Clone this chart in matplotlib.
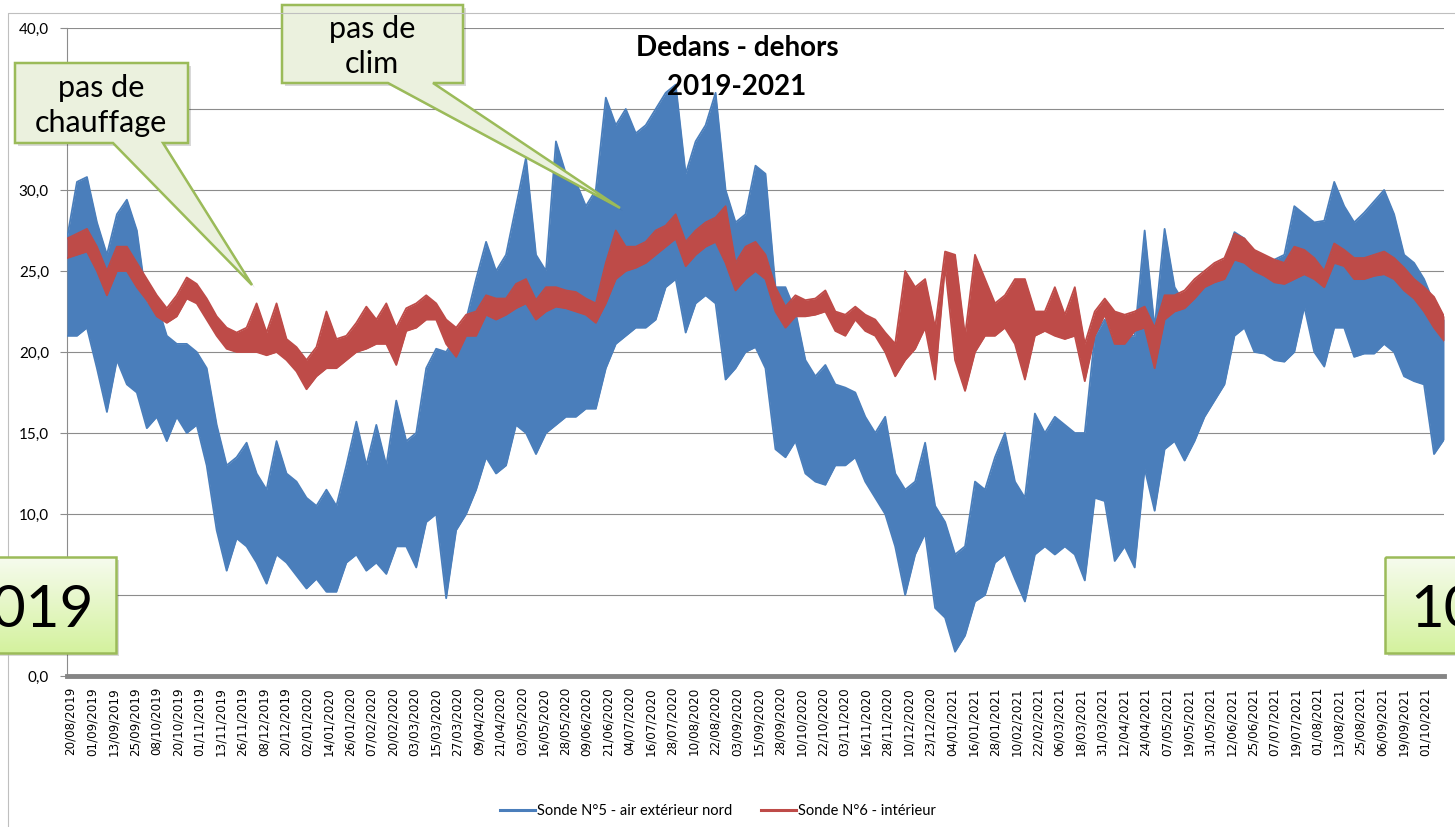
import numpy as np
import matplotlib
matplotlib.use("Agg")
import matplotlib.pyplot as plt
from matplotlib.patches import Polygon, Rectangle
from matplotlib.colors import LinearSegmentedColormap

# x axis labels (one every ~12 days, category style like the Excel sheet)
date_labels = [
    "20/08/2019", "01/09/2019", "13/09/2019", "25/09/2019", "08/10/2019", "20/10/2019",
    "01/11/2019", "13/11/2019", "26/11/2019", "08/12/2019", "20/12/2019", "02/01/2020",
    "14/01/2020", "26/01/2020", "07/02/2020", "20/02/2020", "03/03/2020", "15/03/2020",
    "27/03/2020", "09/04/2020", "21/04/2020", "03/05/2020", "16/05/2020", "28/05/2020",
    "09/06/2020", "21/06/2020", "04/07/2020", "16/07/2020", "28/07/2020", "10/08/2020",
    "22/08/2020", "03/09/2020", "15/09/2020", "28/09/2020", "10/10/2020", "22/10/2020",
    "03/11/2020", "16/11/2020", "28/11/2020", "10/12/2020", "23/12/2020", "04/01/2021",
    "16/01/2021", "28/01/2021", "10/02/2021", "22/02/2021", "06/03/2021", "18/03/2021",
    "31/03/2021", "12/04/2021", "24/04/2021", "07/05/2021", "19/05/2021", "31/05/2021",
    "12/06/2021", "25/06/2021", "07/07/2021", "19/07/2021", "01/08/2021", "13/08/2021",
    "25/08/2021", "06/09/2021", "19/09/2021", "01/10/2021",
]

# readings (°C) taken off the chart, evenly spaced along the x axis:
# low / high envelope of each probe
ext_low = [
    21, 21, 21.5, 19, 16.3, 19.5, 18, 17.5, 15.3, 16,
    14.5, 16, 15, 15.5, 13, 9, 6.5, 8.5, 8, 7,
    5.7, 7.5, 7, 6.2, 5.4, 6, 5.2, 5.2, 7, 7.5,
    6.5, 7, 6.3, 8, 8, 6.7, 9.5, 10, 4.8, 9,
    10, 11.5, 13.5, 12.5, 13, 15.5, 15, 13.7, 15, 15.5,
    16, 16, 16.5, 16.5, 19, 20.5, 21, 21.5, 21.5, 22,
    24, 24.5, 21.2, 23, 23.5, 23, 18.3, 19, 20, 20.3,
    19, 14, 13.5, 14.5, 12.5, 12, 11.8, 13, 13, 13.5,
    12, 11, 10, 8, 5, 7.5, 8.8, 4.2, 3.6, 1.5,
    2.5, 4.6, 5, 7, 7.5, 6, 4.6, 7.5, 8, 7.5,
    8, 7.5, 5.9, 11, 10.8, 7.1, 8, 6.7, 12.8, 10.2,
    14, 14.5, 13.3, 14.5, 16, 17, 18, 21, 21.5, 20,
    19.9, 19.5, 19.4, 20, 22.8, 20, 19.1, 21.5, 21.5, 19.7,
    19.9, 19.9, 20.5, 20, 18.5, 18.2, 18, 13.7, 14.6,
]
ext_high = [
    27, 30.5, 30.8, 28, 26, 28.5, 29.4, 27.5, 23, 23,
    21, 20.5, 20.5, 20, 19, 15.5, 13, 13.5, 14.4, 12.5,
    11.5, 14.5, 12.5, 12, 11, 10.5, 11.5, 10.5, 13, 15.7,
    13, 15.5, 13, 17, 14.5, 15, 19, 20.2, 20, 21,
    22, 24.5, 26.8, 25, 26, 29, 32, 26, 25, 33,
    31, 30.5, 29, 30, 35.7, 34, 35, 33.5, 34, 35,
    36, 36.5, 31, 33, 34, 36, 30, 28, 28.5, 31.5,
    31, 24, 24, 22.5, 19.5, 18.5, 19.2, 18, 17.8, 17.5,
    16, 15, 16, 12.5, 11.5, 12, 14.4, 10.5, 9.5, 7.5,
    8, 12, 11.5, 13.5, 15, 12, 11, 16.2, 15, 16,
    15.5, 15, 15, 21, 22, 20.5, 21, 21, 27.5, 21.5,
    27.6, 24, 23, 24, 24.5, 25, 25.5, 27.4, 27, 26,
    25.5, 25.7, 26, 29, 28.5, 28, 28.1, 30.5, 29, 28,
    28.6, 29.3, 30, 28.5, 26, 25.5, 24.5, 23, 22,
]
int_low = [
    25.8, 26, 26.2, 25, 23.5, 25, 25, 24, 23.2, 22.2,
    21.8, 22.2, 23.3, 23, 22, 21, 20.2, 20, 20, 20,
    19.8, 20, 19.5, 18.8, 17.7, 18.5, 19, 19, 19.5, 20,
    20.2, 20.5, 20.5, 19.2, 21.3, 21.5, 22, 22, 20.5, 19.7,
    21, 21, 22.3, 22, 22.3, 22.7, 23, 22, 22.5, 22.8,
    22.7, 22.5, 22.3, 21.8, 23, 24.5, 25, 25.2, 25.5, 26,
    26.5, 27, 25.3, 26, 26.5, 26.8, 25.5, 23.8, 24.5, 25,
    24.5, 22.5, 21.5, 22.2, 22.2, 22.3, 22.5, 21.3, 21, 22,
    21.3, 21, 20, 18.5, 19.5, 20.2, 21.5, 18.3, 25.3, 19.5,
    17.6, 20, 21, 21, 21.5, 20.5, 18.3, 21, 21.3, 21,
    20.8, 21, 18.2, 21, 22.3, 20.5, 20.5, 21.3, 21.5, 19,
    22, 22.5, 22.7, 23.3, 24, 24.3, 24.5, 25.7, 25.5, 25,
    24.7, 24.3, 24.2, 24.5, 24.8, 24.5, 24, 25.5, 25.3, 24.5,
    24.5, 24.7, 24.8, 24.5, 23.8, 23.3, 22.5, 21.5, 20.7,
]
int_high = [
    27, 27.3, 27.6, 26.5, 25, 26.5, 26.5, 25.5, 24.5, 23.5,
    22.7, 23.5, 24.6, 24.2, 23.3, 22.2, 21.5, 21.2, 21.5, 23,
    21.2, 23, 20.8, 20.3, 19.5, 20.3, 22.5, 20.8, 21, 21.8,
    22.8, 22, 23, 21.5, 22.7, 23, 23.5, 23, 22, 21.5,
    22.3, 22.5, 23.5, 23.3, 23.3, 24.2, 24.5, 23.2, 24, 24,
    23.8, 23.7, 23.3, 23, 25.5, 27.5, 26.5, 26.5, 26.8, 27.5,
    27.8, 28.5, 26.8, 27.5, 28, 28.3, 29, 25.5, 26.5, 26.8,
    26, 24, 22.8, 23.5, 23.2, 23.3, 23.8, 22.5, 22.3, 22.8,
    22.3, 22, 21.2, 20.5, 25, 24, 24.5, 21.5, 26.2, 26,
    21, 26, 24.5, 23, 23.5, 24.5, 24.5, 22.5, 22.5, 24,
    22.3, 24, 20.5, 22.5, 23.3, 22.5, 22.3, 22.5, 22.8, 21.5,
    23.5, 23.5, 23.8, 24.5, 25, 25.5, 25.8, 27.3, 27, 26.3,
    26, 25.7, 25.5, 26.5, 26.3, 25.8, 25, 26.7, 26.3, 25.8,
    25.8, 26, 26.2, 25.8, 25.2, 24.5, 24, 23.4, 22.2,
]

W, H = 1455, 827
BLUE = "#4A7EBB"
RED = "#BE4B48"
GRID = "#8C8C8C"

plt.rcParams["font.family"] = ["Lato", "DejaVu Sans"]

fig = plt.figure(figsize=(W / 100, H / 100), dpi=100)
fig.patch.set_facecolor("white")

# plot area in pixels: x 67..1444, y 28..676
ax = fig.add_axes([67 / W, 1 - 676 / H, (1444 - 67) / W, 648 / H])
x_lo, x_hi = -0.16, 63.88   # first/last reading in tick units

pos = np.linspace(x_lo, x_hi, len(ext_low))

# the hourly curves are so dense they read as a band between low and high
ax.fill_between(pos, ext_low, ext_high, color=BLUE, lw=0, zorder=3)
ax.plot(pos, ext_low, color=BLUE, lw=1.3, zorder=3)
l_ext, = ax.plot(pos, ext_high, color=BLUE, lw=1.3, zorder=3,
                 label="Sonde N°5 - air extérieur nord")
ax.fill_between(pos, int_low, int_high, color=RED, lw=0, zorder=4)
ax.plot(pos, int_low, color=RED, lw=1.3, zorder=4)
l_int, = ax.plot(pos, int_high, color=RED, lw=1.3, zorder=4,
                 label="Sonde N°6 - intérieur")

ax.set_xlim(x_lo, x_hi)
ax.set_ylim(0, 40)
ax.set_yticks(np.arange(0, 41, 5))
ax.set_yticklabels([f"{v:.1f}".replace(".", ",") for v in np.arange(0, 41, 5)], fontsize=11)
ax.set_xticks(np.arange(len(date_labels)))
ax.set_xticklabels(date_labels, rotation=90, fontsize=8.6, family="DejaVu Sans")
ax.tick_params(axis="x", length=0, pad=8)
ax.tick_params(axis="y", length=5, width=0.8, color=GRID, pad=8)
ax.grid(axis="y", color=GRID, lw=0.8, zorder=0)
ax.set_axisbelow(True)
for s in ("top", "right"):
    ax.spines[s].set_visible(False)
ax.spines["left"].set_color(GRID)
ax.spines["left"].set_linewidth(0.8)
ax.spines["bottom"].set_color("#858585")
ax.spines["bottom"].set_linewidth(3.5)
ax.spines["bottom"].set_zorder(5)

leg = fig.legend(handles=[l_ext, l_int], loc="center", bbox_to_anchor=(718 / W, 1 - 811 / H),
                 ncol=2, frameon=False, fontsize=10.5, handlelength=2.4, handletextpad=0.1,
                 columnspacing=2.0)
for h in leg.legend_handles:
    h.set_linewidth(2.2)

# overlay in pixel coordinates for title, chart border and callouts
ov = fig.add_axes([0, 0, 1, 1], zorder=10)
ov.patch.set_alpha(0)
ov.axis("off")

ov.plot([8, 8, W + 5], [H + 5, 13, 13], color="#BFBFBF", lw=0.8)

ov.text(737, 56, "Dedans - dehors", ha="center", va="baseline", fontsize=20, fontweight="bold")
ov.text(737, 95, "2019-2021", ha="center", va="baseline", fontsize=20, fontweight="bold")

FILL = "#EBF1DE"
EDGE = "#9BBB59"

def bubble(pts, lines, cx, ys, fs=22):
    pts = np.array(pts, dtype=float)
    ov.add_patch(Polygon(pts + [3, 3], closed=True, fc="black", ec="none", alpha=0.15))
    ov.add_patch(Polygon(pts, closed=True, fc=FILL, ec=EDGE, lw=1.8, joinstyle="miter"))
    for t, y in zip(lines, ys):
        ov.text(cx, y, t, ha="center", va="baseline", fontsize=fs)

bubble([(15, 63), (188, 63), (188, 143), (163, 143), (252, 285), (113, 143), (15, 143)],
       ["pas de", "chauffage"], 101, [97, 132])
bubble([(282, 5), (463, 5), (463, 83), (433, 83), (620, 208), (388, 83), (282, 83)],
       ["pas de", "clim"], 372, [38, 73])

cmap = LinearSegmentedColormap.from_list("lime", ["#F6FBEE", "#D4F29E"])
grad = np.linspace(0, 1, 100)[:, None]

def year_box(x0, x1, y0, y1, text, tx, ha):
    ov.add_patch(Rectangle((x0 + 3, y0 + 3), x1 - x0, y1 - y0, fc="black", ec="none", alpha=0.15))
    ov.imshow(grad, extent=(x0, x1, y1, y0), cmap=cmap, aspect="auto", zorder=2)
    ov.add_patch(Rectangle((x0, y0), x1 - x0, y1 - y0, fc="none", ec=EDGE, lw=1.8, zorder=3))
    ov.text(tx, 627, text, ha=ha, va="baseline", fontsize=42, zorder=4)

year_box(-60, 116, 557, 653, "2019", 94, "right")
year_box(1385, 1520, 557, 653, "10", 1410, "left")

ov.set_xlim(0, W)
ov.set_ylim(H, 0)

fig.savefig("out.png", dpi=100, facecolor="white")
